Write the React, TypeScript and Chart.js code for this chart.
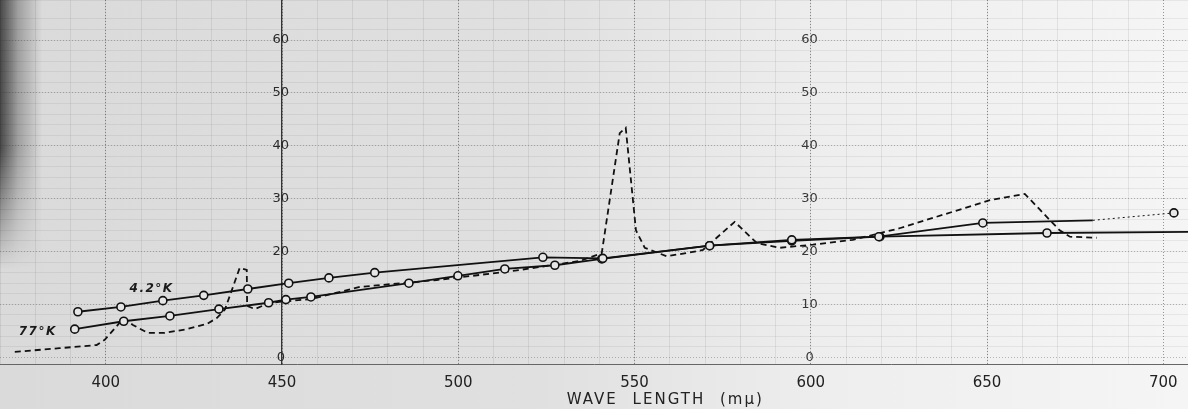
import React, { useEffect, useRef } from "react";
import { Chart, registerables } from "chart.js";

Chart.register(...registerables);

// ---- data ----
const xTickValues = [400, 450, 500, 550, 600, 650, 700];
const yTickValues600 = [0, 10, 20, 30, 40, 50, 60];
const yTickValues450 = [0, 20, 30, 40, 50, 60];

const label42 = "4.2°K";
const wave42 = [392.1, 404.3, 416.2, 427.8, 440.3, 451.9, 463.3, 476.3, 524.0, 541.0, 571.3, 594.6, 619.3, 648.8, 680.0, 703.0];
const sens42 = [8.6, 9.5, 10.7, 11.7, 12.9, 14.0, 15.0, 16.0, 18.9, 18.7, 21.1, 22.2, 22.8, 25.4, 25.9, 27.3];
const plain42 = [14];

const label77 = "77°K";
const wave77 = [391.2, 405.1, 418.2, 432.1, 446.2, 451.1, 458.2, 486.0, 499.9, 513.2, 527.4, 540.7, 571.3, 594.6, 619.6, 667.0, 707.0];
const sens77 = [5.3, 6.8, 7.8, 9.1, 10.3, 10.9, 11.4, 14.0, 15.4, 16.7, 17.4, 18.6, 21.1, 22.0, 22.8, 23.5, 23.7];
const plain77 = [16];

const waveSpectrum = [374.2, 386.9, 397.4, 399.7, 405.1, 407.7, 411.9, 416.7, 423.0, 428.7, 431.5, 433.8, 438.0, 440.0, 440.1, 442.3, 446.5, 458.2, 472.1, 493.9, 504.1, 517.4, 522.3, 534.5, 540.7, 545.8, 547.5, 550.4, 552.9, 559.1, 564.8, 569.4, 578.4, 584.7, 591.2, 600.6, 611.9, 625.2, 650.8, 660.7, 665.0, 670.6, 673.5, 681.1];
const spectrum = [1.0, 1.7, 2.3, 3.3, 7.4, 6.1, 4.6, 4.6, 5.3, 6.3, 7.4, 9.0, 16.9, 16.5, 9.7, 9.1, 10.3, 11.0, 13.3, 14.6, 15.4, 16.5, 17.0, 18.2, 19.7, 42.4, 43.4, 24.0, 20.7, 19.1, 19.7, 20.3, 25.6, 21.6, 20.7, 21.3, 22.2, 24.4, 29.7, 30.9, 27.9, 24.0, 22.8, 22.6];

const axisTitle = "WAVE LENGTH (mμ)";

const X_MIN = 370;
const X_MAX = 707;
const Y_MIN = -1.29;
const Y_MAX = 67.59;

const toXY = (xs: number[], ys: number[]) => xs.map((x, i) => ({ x, y: ys[i] }));

export default function App() {
  const ref = useRef<HTMLCanvasElement>(null);

  useEffect(() => {
    if (!ref.current) return;

    const annotations = {
      id: "annotations",
      afterDraw(chart: any) {
        const ctx = chart.ctx as CanvasRenderingContext2D;
        const xs = chart.scales.x;
        const ys = chart.scales.y;
        ctx.save();
        ctx.fillStyle = "#1a1a1a";
        ctx.textBaseline = "middle";
        ctx.textAlign = "center";
        (ctx as any).letterSpacing = "1.5px";
        ctx.font = 'bold italic 12px "DejaVu Sans"';
        ctx.fillText(label42, xs.getPixelForValue(413), ys.getPixelForValue(12.9));
        ctx.fillText(label77, xs.getPixelForValue(380.7), ys.getPixelForValue(4.8));
        (ctx as any).letterSpacing = "2px";
        (ctx as any).wordSpacing = "8px";
        ctx.font = '15px "DejaVu Sans"';
        ctx.fillStyle = "#222";
        const area = chart.chartArea;
        ctx.fillText(axisTitle, area.left + (area.right - area.left) * 0.56, chart.height - 9);
        ctx.restore();
      },
    };

    const yTickCallback = (v: any) => (v === 0 ? "0 " : String(v));
    const labelTicks = (color: string) => ({
      font: { family: "DejaVu Sans", size: 13 },
      color,
      padding: -8,
      callback: yTickCallback,
    });

    const chart = new Chart(ref.current, {
      type: "line",
      data: {
        datasets: [
          {
            label: label42,
            data: toXY(wave42, sens42),
            borderColor: "#111",
            borderWidth: 1.8,
            pointRadius: (c: any) => (plain42.includes(c.dataIndex) ? 0 : 4),
            pointBorderWidth: 1.6,
            pointBorderColor: "#111",
            pointBackgroundColor: "#e6e6e6",
            tension: 0,
            segment: {
              borderDash: (c: any) => (c.p1DataIndex === wave42.length - 1 ? [2, 3] : undefined),
              borderWidth: (c: any) => (c.p1DataIndex === wave42.length - 1 ? 1 : undefined),
            },
          } as any,
          {
            label: label77,
            data: toXY(wave77, sens77),
            borderColor: "#111",
            borderWidth: 1.8,
            pointRadius: (c: any) => (plain77.includes(c.dataIndex) ? 0 : 4),
            pointBorderWidth: 1.6,
            pointBorderColor: "#111",
            pointBackgroundColor: "#e6e6e6",
            tension: 0,
          } as any,
          {
            label: "spectrum",
            data: toXY(waveSpectrum, spectrum),
            borderColor: "#111",
            borderWidth: 1.8,
            borderDash: [6, 4],
            pointRadius: 0,
            tension: 0,
          } as any,
        ],
      },
      options: {
        animation: false,
        responsive: false,
        devicePixelRatio: 1,
        layout: { autoPadding: false, padding: { left: 0, right: 0, top: 0, bottom: 7 } },
        plugins: { legend: { display: false }, tooltip: { enabled: false } },
        scales: {
          x: {
            type: "linear",
            min: X_MIN,
            max: X_MAX,
            position: "bottom",
            afterBuildTicks: (s: any) => {
              s.ticks = xTickValues.map((v) => ({ value: v }));
            },
            ticks: {
              font: { family: "DejaVu Sans", size: 15 },
              color: "#222",
              padding: 10,
              maxRotation: 0,
              autoSkip: false,
            },
            grid: { color: "rgba(70,70,70,0.55)", lineWidth: 1, drawTicks: false },
            border: { display: true, color: "#666", width: 1, dash: [1, 2] },
          },
          xMinor: {
            type: "linear",
            min: X_MIN,
            max: X_MAX,
            position: "bottom",
            ticks: { display: false, stepSize: 10 },
            grid: { color: "rgba(0,0,0,0.07)", lineWidth: 1, drawTicks: false },
            border: { display: false },
          },
          yMinor: {
            type: "linear",
            min: Y_MIN,
            max: Y_MAX,
            position: "left",
            ticks: { display: false, stepSize: 2 },
            grid: { color: "rgba(0,0,0,0.06)", lineWidth: 1, drawTicks: false },
            border: { display: false },
          },
          y: {
            type: "linear",
            min: Y_MIN,
            max: Y_MAX,
            position: { x: 450 },
            ticks: { display: false },
            grid: { display: false, drawTicks: false },
            border: { display: true, color: "#333", width: 1.3 },
          },
          yLabels450: {
            type: "linear",
            min: Y_MIN,
            max: Y_MAX,
            position: { x: 452 },
            afterBuildTicks: (s: any) => {
              s.ticks = yTickValues450.map((v) => ({ value: v }));
            },
            ticks: labelTicks("#2a2a2a"),
            grid: { display: false, drawTicks: false },
            border: { display: false },
          },
          y600: {
            type: "linear",
            min: Y_MIN,
            max: Y_MAX,
            position: { x: 602 },
            afterBuildTicks: (s: any) => {
              s.ticks = yTickValues600.map((v) => ({ value: v }));
            },
            ticks: labelTicks("#3a3a3a"),
            grid: { display: true, color: "rgba(70,70,70,0.35)", lineWidth: 1, drawTicks: false },
            border: { display: false, dash: [1, 2] },
          },
        } as any,
      },
      plugins: [annotations],
    } as any);

    return () => chart.destroy();
  }, []);

  return (
    <div
      style={{
        position: "absolute",
        left: 0,
        top: 0,
        width: 1188,
        height: 409,
        overflow: "hidden",
        background:
          "linear-gradient(to right, #dadada 0%, #e0e0e0 45%, #eeeeee 70%, #f5f5f5 100%)",
      }}
    >
      <div
        style={{
          position: "absolute",
          left: 0,
          top: 0,
          width: 42,
          height: 270,
          background:
            "linear-gradient(to right, rgba(55,55,55,0.9) 0px, rgba(110,110,110,0.55) 18px, rgba(190,190,190,0) 42px)",
          WebkitMaskImage: "linear-gradient(to bottom, black 55%, transparent 100%)",
          maskImage: "linear-gradient(to bottom, black 55%, transparent 100%)",
        }}
      />
      <canvas
        ref={ref}
        width={1188}
        height={409}
        style={{ position: "absolute", left: 0, top: 0, width: 1188, height: 409 }}
      />
    </div>
  );
}
